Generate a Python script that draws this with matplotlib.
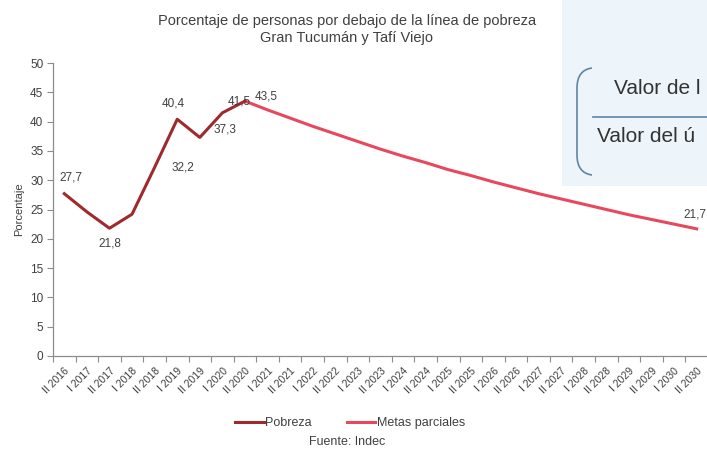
import matplotlib.pyplot as plt
from matplotlib.patches import Rectangle, PathPatch
from matplotlib.path import Path
import numpy as np

plt.rcParams['font.family'] = ['Liberation Sans', 'DejaVu Sans']

# Data
periodos = ['II 2016']
for year in range(2017, 2031):
    periodos += [f'I {year}', f'II {year}']

pobreza = [27.7, 24.6, 21.8, 24.2, 32.2, 40.4, 37.3, 41.5, 43.5]
metas = [43.5, 42.0, 40.6, 39.2, 37.9, 36.6, 35.3, 34.1, 33.0, 31.8, 30.8,
         29.7, 28.7, 27.7, 26.8, 25.9, 25.0, 24.1, 23.3, 22.5, 21.7]

# value labels shown on the chart (index -> text)
etiquetas_pobreza = {0: '27,7', 2: '21,8', 4: '32,2', 5: '40,4', 6: '37,3', 7: '41,5'}
etiquetas_metas = {0: '43,5', 20: '21,7'}

C_POB = '#9e2a2e'
C_MET = '#e8485e'
C_TXT = '#404040'
C_AX = '#8c8c8c'

W, H = 707, 457
fig = plt.figure(figsize=(W / 100, H / 100), dpi=100)
ax = fig.add_axes([53 / W, 101 / H, 655 / W, 293 / H])

x_pob = np.arange(len(pobreza))
x_met = np.arange(len(metas)) + len(pobreza) - 1

ax.plot(x_met, metas, color=C_MET, lw=2.2, label='Metas parciales', zorder=2)
ax.plot(x_pob, pobreza, color=C_POB, lw=2.2, label='Pobreza', zorder=3)

ax.set_xlim(-0.5, len(periodos) - 0.5)
ax.set_ylim(0, 50)
ax.set_yticks(np.arange(0, 51, 5))
ax.set_xticks(np.arange(len(periodos)))
ax.set_xticklabels(periodos, rotation=45, ha='right', va='top',
                   rotation_mode='anchor', fontsize=7.5, color=C_TXT)
ax.set_xticks(np.arange(len(periodos) + 1) - 0.5, minor=True)
ax.tick_params(axis='x', which='major', length=0, pad=7)
ax.tick_params(axis='x', which='minor', length=4, color=C_AX, width=0.8)
ax.tick_params(axis='y', length=4, color=C_AX, width=0.8, labelsize=8.5,
               labelcolor=C_TXT, pad=3)

for s in ['top', 'right']:
    ax.spines[s].set_visible(False)
for s in ['left', 'bottom']:
    ax.spines[s].set_color(C_AX)
    ax.spines[s].set_linewidth(0.9)

ax.set_ylabel('Porcentaje', fontsize=8, color=C_TXT, labelpad=4)

# data labels (offsets in points)
pos_pob = {0: (5, 7, 'center', 'bottom'), 2: (0, -7, 'center', 'top'),
           4: (20, 0, 'center', 'center'), 5: (-3, 7, 'center', 'bottom'),
           6: (18, 6, 'center', 'center'), 7: (12, 8, 'center', 'center')}
for i, txt in etiquetas_pobreza.items():
    dx, dy, ha, va = pos_pob[i]
    ax.annotate(txt, (x_pob[i], pobreza[i]), xytext=(dx, dy),
                textcoords='offset points', ha=ha, va=va, fontsize=8.5,
                color=C_TXT)
pos_met = {0: (15, 3, 'center', 'center'), 20: (-1, 10, 'center', 'center')}
for i, txt in etiquetas_metas.items():
    dx, dy, ha, va = pos_met[i]
    ax.annotate(txt, (x_met[i], metas[i]), xytext=(dx, dy),
                textcoords='offset points', ha=ha, va=va, fontsize=8.5,
                color=C_TXT, annotation_clip=False)

# titles and source
fig.text(347 / W, 1 - 21 / H, 'Porcentaje de personas por debajo de la línea de pobreza',
         ha='center', va='center', fontsize=10.5, color=C_TXT)
fig.text(347 / W, 1 - 38 / H, 'Gran Tucumán y Tafí Viejo',
         ha='center', va='center', fontsize=10.5, color=C_TXT)
fig.text(347 / W, 1 - 442 / H, 'Fuente: Indec', ha='center', va='center',
         fontsize=9, color=C_TXT)

leg = fig.legend(handles=ax.get_lines()[::-1], loc='center',
                 bbox_to_anchor=(350 / W, 1 - 423 / H), ncol=2, frameon=False,
                 fontsize=9, handlelength=2.3, handletextpad=0.1,
                 columnspacing=2.8)
for t in leg.get_texts():
    t.set_color(C_TXT)

# overlaid formula box on the right
fig.patches.append(Rectangle((562 / W, 1 - 186 / H), (W - 562) / W, 186 / H,
                             transform=fig.transFigure, facecolor='#eef5fa',
                             edgecolor='none', zorder=5))
verts = [(592, 68), (577, 70), (577, 88), (577, 155), (577, 173), (592, 175)]
codes = [Path.MOVETO, Path.CURVE3, Path.CURVE3, Path.LINETO, Path.CURVE3, Path.CURVE3]
verts = [(vx / W, 1 - vy / H) for vx, vy in verts]
fig.patches.append(PathPatch(Path(verts, codes), transform=fig.transFigure,
                             facecolor='none', edgecolor='#5f84a6', lw=1.2, zorder=6))
fig.lines.append(plt.Line2D([593 / W, 1.0], [1 - 117 / H, 1 - 117 / H],
                            transform=fig.transFigure, color='#6a8fb0', lw=1.3,
                            zorder=6))
fig.text(614 / W, 1 - 89 / H, 'Valor de l', ha='left', va='center',
         fontsize=15, color='#333333', zorder=7)
fig.text(597 / W, 1 - 137 / H, 'Valor del ú', ha='left', va='center',
         fontsize=15, color='#333333', zorder=7)

fig.savefig('out.png', dpi=100)
